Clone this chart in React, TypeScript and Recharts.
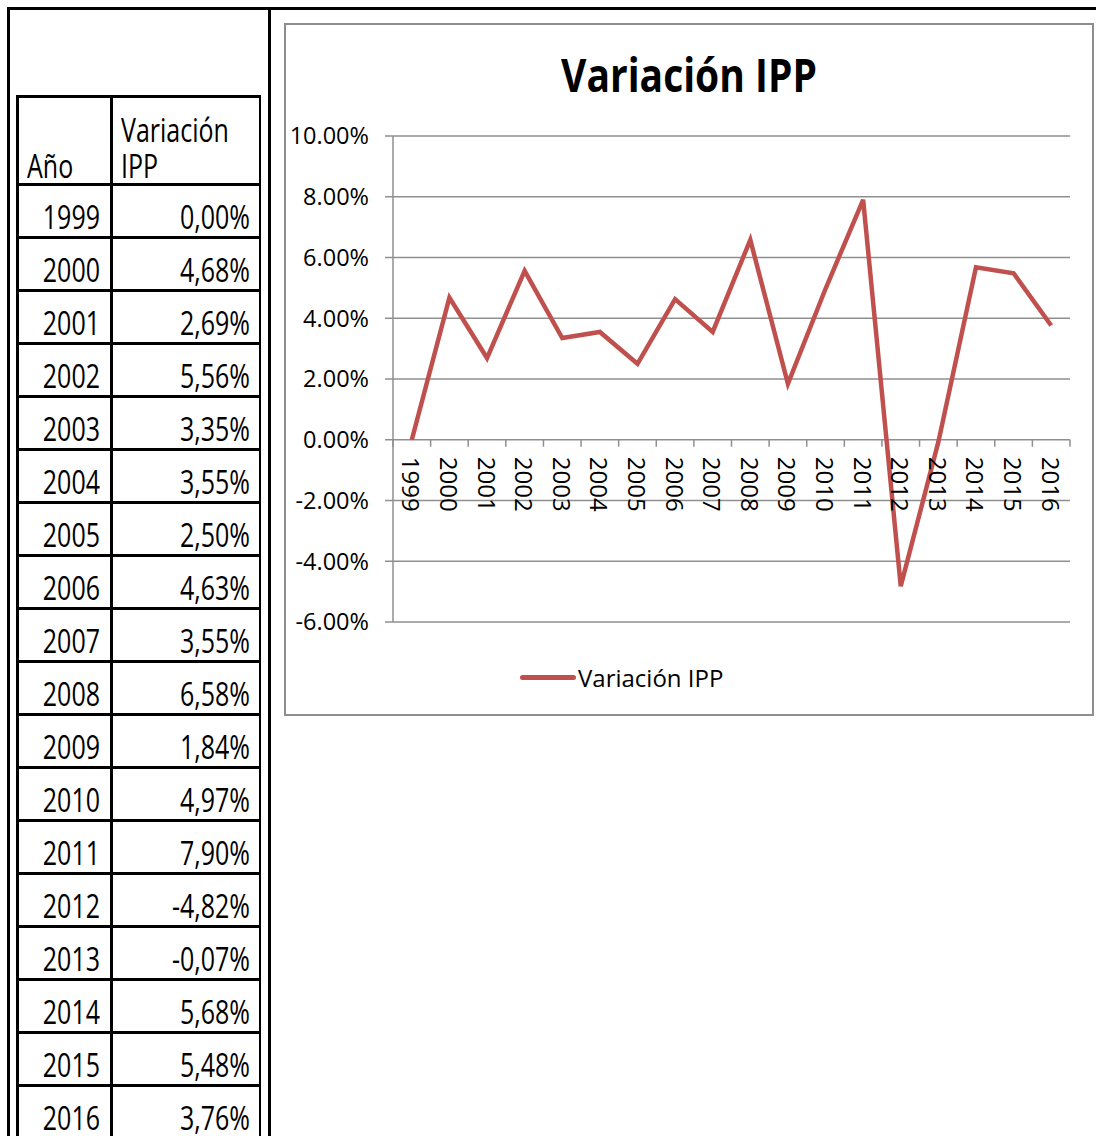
import React from "react";
import {
  LineChart,
  Line,
  XAxis,
  YAxis,
  CartesianGrid,
  Legend,
} from "recharts";

const years = [
  "1999", "2000", "2001", "2002", "2003", "2004", "2005", "2006", "2007",
  "2008", "2009", "2010", "2011", "2012", "2013", "2014", "2015", "2016",
];
const ippVariation = [
  0.0, 4.68, 2.69, 5.56, 3.35, 3.55, 2.5, 4.63, 3.55, 6.58, 1.84, 4.97, 7.9,
  -4.82, -0.07, 5.68, 5.48, 3.76,
];
const yTicks = [-6, -4, -2, 0, 2, 4, 6, 8, 10];
const seriesName = "Variación IPP";

const data = years.map((y, i) => ({ year: y, value: ippVariation[i] }));

const RED = "#C0504D";
const GRID = "#8f8f8f";
const TABLE_FONT = '"Open Sans", "Noto Sans", sans-serif';
const CHART_FONT = '"Open Sans", "Noto Sans", sans-serif';

// chart box geometry
const CHART_W = 806;
const CHART_H = 689;
const M_TOP = 111;
const M_BOTTOM = 92;
const M_RIGHT = 22;
const Y_AXIS_W = 107;
const X_AXIS_H = 30;
const PLOT_W = CHART_W - Y_AXIS_W - M_RIGHT;
const PLOT_H = CHART_H - M_TOP - M_BOTTOM;
const Y_MIN = -6;
const Y_MAX = 10;
const BAND = PLOT_W / years.length;
// distance from plot bottom up to the zero line
const ZERO_SHIFT = (PLOT_H * (0 - Y_MIN)) / (Y_MAX - Y_MIN);

const YearTick = (props: any) => {
  const { x, y, payload, index } = props;
  const zy = y - ZERO_SHIFT;
  return (
    <g>
      <line x1={x - BAND / 2} x2={x - BAND / 2} y1={zy} y2={zy + 7} stroke={GRID} strokeWidth={1.5} />
      {index === years.length - 1 && (
        <line x1={x + BAND / 2} x2={x + BAND / 2} y1={zy} y2={zy + 7} stroke={GRID} strokeWidth={1.5} />
      )}
      <text
        transform={`translate(${x},${zy + 17}) rotate(90)`}
        textAnchor="start"
        dominantBaseline="central"
        fontFamily={CHART_FONT}
        fontSize={24}
        fill="#000"
      >
        {payload.value}
      </text>
    </g>
  );
};

const LegendContent = () => (
  <div style={{ display: "flex", alignItems: "center", fontFamily: CHART_FONT, fontSize: 24, color: "#000" }}>
    <span style={{ display: "inline-block", width: 56, height: 5, borderRadius: 3, background: RED, marginRight: 2 }} />
    <span>{seriesName}</span>
  </div>
);

const line = (s: React.CSSProperties) => <div style={{ position: "absolute", background: "#000", ...s }} />;

const fmtPct = (v: number) => v.toFixed(2).replace(".", ",") + "%";

// table text: slightly tall, like the stretched sheet screenshot
const cellText: React.CSSProperties = {
  position: "absolute",
  fontFamily: TABLE_FONT,
  fontSize: 25,
  lineHeight: "25px",
  transform: "scaleY(1.28)",
  transformOrigin: "center 22px",
  whiteSpace: "nowrap",
};

export default function App() {
  const rowH = 53;
  const tableTop = 95;
  const headerBottom = 184;
  const colL = 16;
  const colM = 111;
  const colR = 261;
  const bw = 2.5;

  return (
    <div style={{ position: "absolute", left: 0, top: 0, width: 1096, height: 1136, overflow: "hidden", background: "#fff" }}>
      {/* sheet frame */}
      {line({ left: 7, top: 7, width: 1089, height: 3 })}
      {line({ left: 7, top: 7, width: 3, height: 1129 })}
      {line({ left: 268, top: 7, width: 3, height: 1129 })}

      {/* table grid */}
      {line({ left: colL, top: tableTop, width: colR - colL, height: bw })}
      {line({ left: colL, top: tableTop, width: bw, height: 1136 - tableTop })}
      {line({ left: colM - 1, top: tableTop, width: bw, height: 1136 - tableTop })}
      {line({ left: colR - bw, top: tableTop, width: bw, height: 1136 - tableTop })}
      {line({ left: colL, top: headerBottom - 1, width: colR - colL, height: bw })}
      {years.map((_, i) => (
        <React.Fragment key={i}>{line({ left: colL, top: headerBottom + rowH * (i + 1) - 1, width: colR - colL, height: bw })}</React.Fragment>
      ))}

      {/* header */}
      <div style={{ ...cellText, left: 27, top: 156 }}>Año</div>
      <div style={{ ...cellText, left: 121, top: 120 }}>Variación</div>
      <div style={{ ...cellText, left: 121, top: 156 }}>IPP</div>

      {/* rows */}
      {years.map((y, i) => {
        const top = headerBottom + rowH * i + 23;
        return (
          <React.Fragment key={y}>
            <div style={{ ...cellText, left: colL, width: colM - colL - 11, top, textAlign: "right" }}>{y}</div>
            <div style={{ ...cellText, left: colM, width: colR - colM - 11, top, textAlign: "right" }}>
              {fmtPct(ippVariation[i])}
            </div>
          </React.Fragment>
        );
      })}

      {/* chart box */}
      <div style={{ position: "absolute", left: 284, top: 23, width: 810, height: 693, boxSizing: "border-box", border: "2px solid #8e8e8e" }} />
      <div
        style={{
          position: "absolute",
          left: 286,
          top: 48,
          width: 806,
          textAlign: "center",
          fontFamily: CHART_FONT,
          fontWeight: 700,
          fontSize: 39,
          lineHeight: "52px",
          transform: "scaleY(1.18)",
        }}
      >
        {seriesName}
      </div>
      <div style={{ position: "absolute", left: 286, top: 25 }}>
        <LineChart width={CHART_W} height={CHART_H} data={data} margin={{ top: M_TOP, right: M_RIGHT, left: 0, bottom: M_BOTTOM - X_AXIS_H }}>
          <CartesianGrid horizontal vertical={false} stroke={GRID} strokeWidth={1.5} />
          <XAxis
            dataKey="year"
            height={X_AXIS_H}
            padding={{ left: BAND / 2, right: BAND / 2 }}
            axisLine={false}
            tickLine={false}
            tickSize={0}
            tickMargin={0}
            interval={0}
            tick={<YearTick />}
          />
          <YAxis
            width={Y_AXIS_W}
            domain={[Y_MIN, Y_MAX]}
            ticks={yTicks}
            interval={0}
            tickSize={8}
            tickMargin={16}
            axisLine={{ stroke: GRID, strokeWidth: 1.5 }}
            tickLine={{ stroke: GRID, strokeWidth: 1.5 }}
            tick={{ fill: "#000", fontSize: 23.5, fontFamily: CHART_FONT }}
            tickFormatter={(v: number) => v.toFixed(2) + "%"}
          />
          <Legend
            verticalAlign="middle"
            align="center"
            layout="horizontal"
            content={<LegendContent />}
            wrapperStyle={{ left: 234, top: 636, width: "auto" }}
          />
          <Line
            type="linear"
            dataKey="value"
            name={seriesName}
            stroke={RED}
            strokeWidth={4.5}
            dot={false}
            activeDot={false}
            isAnimationActive={false}
          />
        </LineChart>
      </div>
    </div>
  );
}
